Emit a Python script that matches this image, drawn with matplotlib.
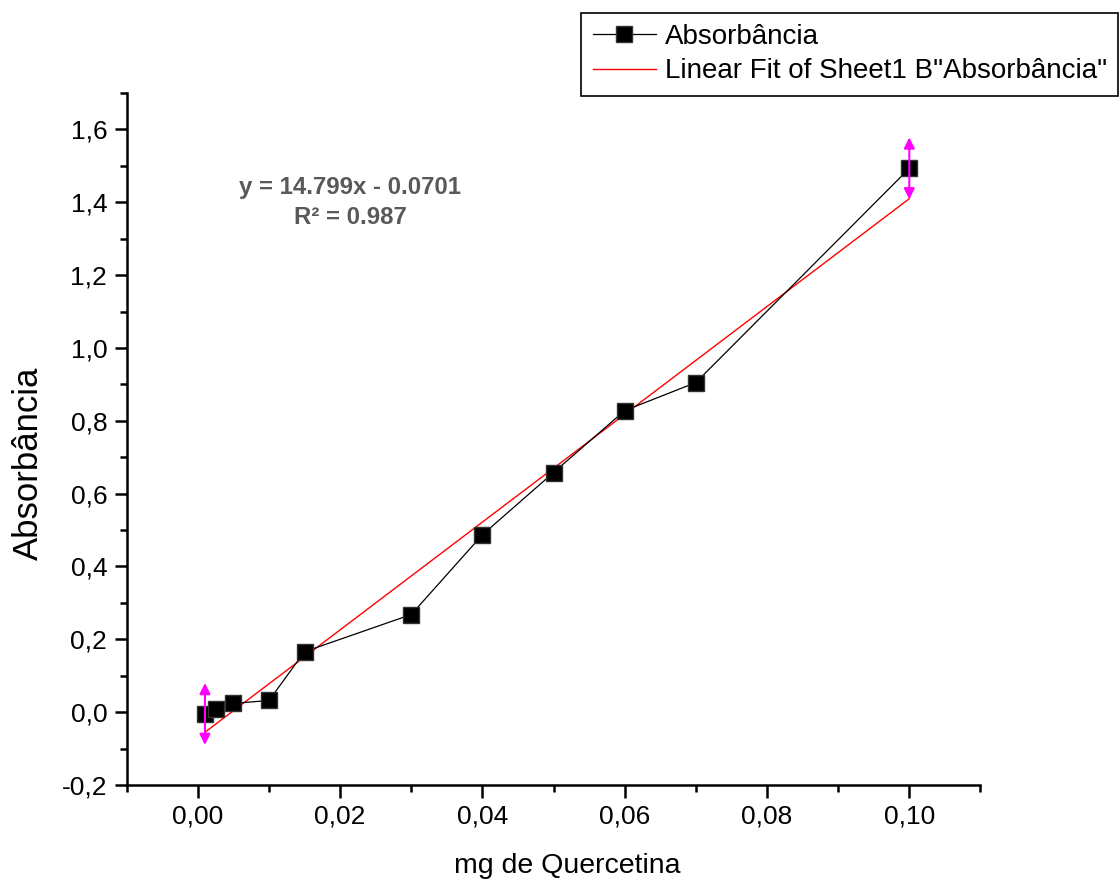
import matplotlib
matplotlib.use("Agg")
import matplotlib.pyplot as plt
from matplotlib.ticker import MultipleLocator, FuncFormatter
import numpy as np

plt.rcParams['font.family'] = ['Liberation Sans', 'DejaVu Sans']

# Data
conc_mg = [0.001, 0.0025, 0.005, 0.010, 0.015, 0.030, 0.040, 0.050, 0.060, 0.070, 0.100]
absorbancia = [-0.005, 0.010, 0.024, 0.032, 0.166, 0.268, 0.487, 0.658, 0.828, 0.905, 1.493]
fit_slope = 14.799
fit_intercept = -0.0701
equation_text = "y = 14.799x - 0.0701"
r2_text = "R² = 0.987"
x_label = "mg de Quercetina"
y_label = "Absorbância"
legend_data = "Absorbância"
legend_fit = 'Linear Fit of Sheet1 B"Absorbância"'

fig = plt.figure(figsize=(11.2, 8.84), dpi=100)
ax = fig.add_axes([0.1131, 0.1120, 0.7623, 0.7828])

x = np.array(conc_mg)
y = np.array(absorbancia)

ax.plot(x, y, color='black', lw=0.9, marker='s', markersize=11.5,
        markerfacecolor='black', markeredgecolor='#333333', label=legend_data, zorder=3)

xf = np.array([x[0], x[-1]])
ax.plot(xf, fit_slope * xf + fit_intercept, color='red', lw=1.0, label=legend_fit, zorder=2)

# fit range markers (Origin style)
for xi, yi in [(x[0], y[0]), (x[-1], y[-1])]:
    ax.annotate('', xy=(xi, yi + 0.085), xytext=(xi, yi - 0.085),
                arrowprops=dict(arrowstyle='<|-|>', color='#FF00FF', lw=1.5,
                                mutation_scale=16, shrinkA=0, shrinkB=0), zorder=4)

ax.set_xlim(-0.01, 0.11)
ax.set_ylim(-0.2, 1.7)

ax.xaxis.set_major_locator(MultipleLocator(0.02))
ax.xaxis.set_minor_locator(MultipleLocator(0.01))
ax.yaxis.set_major_locator(MultipleLocator(0.2))
ax.yaxis.set_minor_locator(MultipleLocator(0.1))
ax.xaxis.set_major_formatter(FuncFormatter(lambda v, p: f"{v:.2f}".replace('.', ',').replace('-0,00', '0,00')))
ax.yaxis.set_major_formatter(FuncFormatter(lambda v, p: f"{v:.1f}".replace('.', ',').replace('-0,0', '0,0')))

for s in ['top', 'right']:
    ax.spines[s].set_visible(False)
for s in ['left', 'bottom']:
    ax.spines[s].set_linewidth(1.8)

ax.tick_params(axis='both', which='major', direction='out', length=9, width=1.8,
               labelsize=19, pad=5)
ax.tick_params(axis='both', which='minor', direction='out', length=5, width=1.8)

ax.set_xlabel(x_label, fontsize=20.5)
ax.set_ylabel(y_label, fontsize=25)
ax.xaxis.set_label_coords(0.516, -0.117)
ax.xaxis.label.set_va('center')
ax.yaxis.set_label_coords(-0.115, 0.465)
ax.yaxis.label.set_va('center')

fig.text(0.3125, 0.7880, equation_text, ha='center', va='center', fontsize=17.3,
         fontweight='bold', color='#595959')
fig.text(0.3125, 0.7540, r2_text, ha='center', va='center', fontsize=17.3,
         fontweight='bold', color='#595959')

leg = ax.legend(loc='upper right', bbox_to_anchor=(1118 / 1120, 1 - 13 / 884),
                bbox_transform=fig.transFigure, fontsize=20, frameon=True,
                fancybox=False, framealpha=1, edgecolor='black', numpoints=1,
                handlelength=2.3, handletextpad=0.3, borderpad=0.4,
                labelspacing=0.3, borderaxespad=0)
leg.get_frame().set_linewidth(1.2)

fig.savefig('out.png', dpi=100)
